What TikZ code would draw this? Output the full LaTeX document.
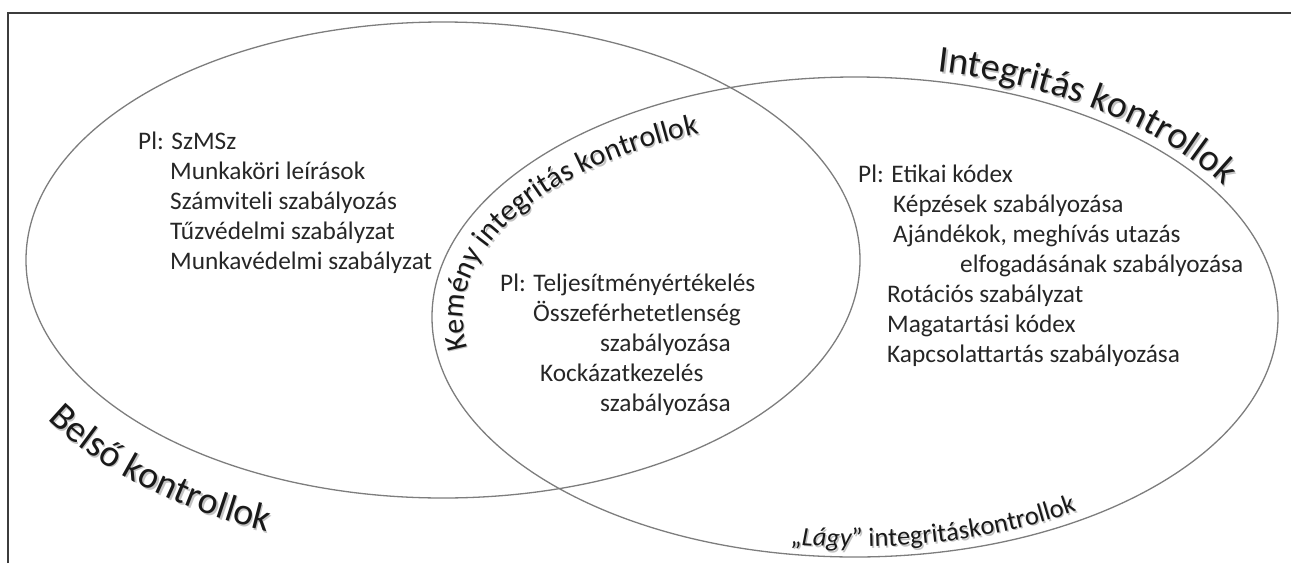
\documentclass[tikz,border=0pt]{standalone}
\usepackage{fontspec}
\setmainfont{Carlito}
\usetikzlibrary{decorations.text}
\definecolor{ringgray}{RGB}{125,125,125}
\definecolor{inkgray}{RGB}{38,38,38}
\definecolor{framegray}{RGB}{60,60,60}
\definecolor{shadowgray}{RGB}{195,195,195}
\newcommand{\bigfont}{\fontsize{38}{44}\selectfont}
\newcommand{\midfont}{\fontsize{30}{36}\selectfont}
\newcommand{\lagyfont}{\fontsize{26.5}{30}\selectfont}
% curved label with a soft drop shadow: #1 path, #2 text
\newcommand{\bentlabel}[2]{%
  \path[decorate, shift={(1.4,1.6)},
    decoration={text along path, text color=shadowgray, text={#2}}] #1;
  \path[decorate,
    decoration={text along path, text color=black!90, text={#2}}] #1;}

\begin{document}
\begin{tikzpicture}[x=1pt, y=-1pt,
        ring/.style={draw=ringgray, line width=1.3pt},
        frame/.style={draw=framegray, line width=1.3pt},
        listtext/.style={anchor=base west, align=left, inner sep=0pt,
                         text=inkgray, font=\fontsize{25.3}{30}\selectfont}
    ]
    \useasboundingbox (0,0) rectangle (1291,563);
    \draw[frame] (8,563) -- (8,13) -- (1291,13);

    % the two sets
    \draw[ring] (443,260) ellipse [x radius=417pt, y radius=238pt];
    \draw[ring] (855,317) ellipse [x radius=423pt, y radius=240pt];

    % set names along the rims
    \bentlabel{plot[domain=-79:-10, samples=120] ({855+433*cos(\x)},{317+250*sin(\x)})}
              {|\bigfont|Integritás kontrollok}
    \bentlabel{plot[domain=147:90, samples=120] ({443+472*cos(\x)},{260+293*sin(\x)})}
              {|\bigfont|Belső kontrollok}
    \bentlabel{plot[domain=171:275, samples=120] ({855+392*cos(\x)},{317+200*sin(\x)})}
              {|\midfont|Kemény integritás kontrollok}
    \bentlabel{plot[domain=99:25, samples=120] ({855+413*cos(\x)},{317+230*sin(\x)})}
              {|\lagyfont|„|\lagyfont\itshape|Lágy|\lagyfont\upshape|” integritáskontrollok}

    % examples (anchored at the last line)
    \node[listtext] (belsolist) at (138,269) {Pl: SzMSz\\
        \hspace*{32pt}Munkaköri leírások\\
        \hspace*{32pt}Számviteli szabályozás\\
        \hspace*{32pt}Tűzvédelmi szabályzat\\
        \hspace*{32pt}Munkavédelmi szabályzat};
    \node[listtext] (kemenylist) at (500,411) {Pl: Teljesítményértékelés\\
        \hspace*{33pt}Összeférhetetlenség\\
        \hspace*{100pt}szabályozása\\
        \hspace*{40pt}Kockázatkezelés\\
        \hspace*{100pt}szabályozása};
    \node[listtext] (lagylist) at (858,362) {Pl: Etikai kódex\\
        \hspace*{35pt}Képzések szabályozása\\
        \hspace*{35pt}Ajándékok, meghívás utazás\\
        \hspace*{102pt}elfogadásának szabályozása\\
        \hspace*{29pt}Rotációs szabályzat\\
        \hspace*{29pt}Magatartási kódex\\
        \hspace*{29pt}Kapcsolattartás szabályozása};
\end{tikzpicture}
\end{document}
